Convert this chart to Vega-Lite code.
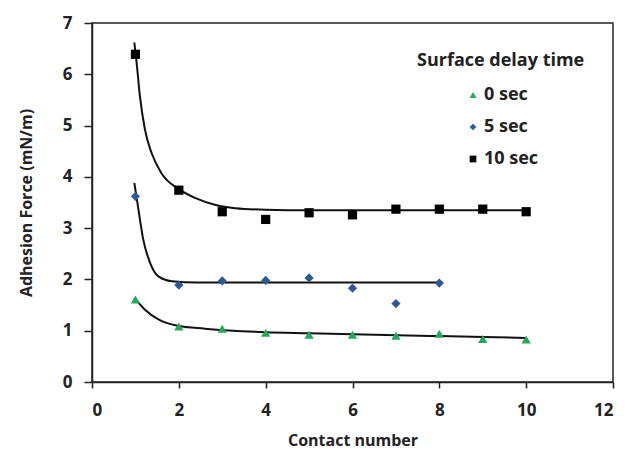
{
  "$schema": "https://vega.github.io/schema/vega-lite/v6.json",
  "width": 521,
  "height": 359,
  "autosize": "none",
  "padding": {"left": 92, "top": 23, "right": 14, "bottom": 67},
  "background": "white",
  "config": {
    "font": "Open Sans",
    "view": {"stroke": "#222", "strokeWidth": 1.5},
    "axis": {
      "grid": false,
      "domainColor": "#222",
      "domainWidth": 1.5,
      "tickColor": "#222",
      "tickWidth": 1.5,
      "labelFont": "Open Sans",
      "labelFontWeight": "bold",
      "labelFontSize": 17,
      "labelColor": "#222",
      "titleFont": "Open Sans",
      "titleFontWeight": "bold",
      "titleFontSize": 16,
      "titleColor": "#222"
    }
  },
  "datasets": {
    "pts": [
      {"series": "0 sec", "contact": 1, "force": 1.61},
      {"series": "0 sec", "contact": 2, "force": 1.08},
      {"series": "0 sec", "contact": 3, "force": 1.04},
      {"series": "0 sec", "contact": 4, "force": 0.96},
      {"series": "0 sec", "contact": 5, "force": 0.92},
      {"series": "0 sec", "contact": 6, "force": 0.92},
      {"series": "0 sec", "contact": 7, "force": 0.90},
      {"series": "0 sec", "contact": 8, "force": 0.94},
      {"series": "0 sec", "contact": 9, "force": 0.84},
      {"series": "0 sec", "contact": 10, "force": 0.83},
      {"series": "5 sec", "contact": 1, "force": 3.62},
      {"series": "5 sec", "contact": 2, "force": 1.89},
      {"series": "5 sec", "contact": 3, "force": 1.97},
      {"series": "5 sec", "contact": 4, "force": 1.98},
      {"series": "5 sec", "contact": 5, "force": 2.03},
      {"series": "5 sec", "contact": 6, "force": 1.83},
      {"series": "5 sec", "contact": 7, "force": 1.53},
      {"series": "5 sec", "contact": 8, "force": 1.93},
      {"series": "10 sec", "contact": 1, "force": 6.39},
      {"series": "10 sec", "contact": 2, "force": 3.74},
      {"series": "10 sec", "contact": 3, "force": 3.32},
      {"series": "10 sec", "contact": 4, "force": 3.17},
      {"series": "10 sec", "contact": 5, "force": 3.30},
      {"series": "10 sec", "contact": 6, "force": 3.26},
      {"series": "10 sec", "contact": 7, "force": 3.37},
      {"series": "10 sec", "contact": 8, "force": 3.37},
      {"series": "10 sec", "contact": 9, "force": 3.37},
      {"series": "10 sec", "contact": 10, "force": 3.32}
    ],
    "fit": [
      {"series": "10 sec", "contact": 0.975, "force": 6.62},
      {"series": "10 sec", "contact": 1.03, "force": 6.21},
      {"series": "10 sec", "contact": 1.1, "force": 5.6},
      {"series": "10 sec", "contact": 1.22, "force": 4.92},
      {"series": "10 sec", "contact": 1.375, "force": 4.46},
      {"series": "10 sec", "contact": 1.6, "force": 4.07},
      {"series": "10 sec", "contact": 2.0, "force": 3.76},
      {"series": "10 sec", "contact": 2.4, "force": 3.58},
      {"series": "10 sec", "contact": 2.85, "force": 3.45},
      {"series": "10 sec", "contact": 3.3, "force": 3.39},
      {"series": "10 sec", "contact": 4.0, "force": 3.36},
      {"series": "10 sec", "contact": 5.0, "force": 3.35},
      {"series": "10 sec", "contact": 7.0, "force": 3.35},
      {"series": "10 sec", "contact": 10.0, "force": 3.35},
      {"series": "5 sec", "contact": 0.975, "force": 3.88},
      {"series": "5 sec", "contact": 1.07, "force": 3.36},
      {"series": "5 sec", "contact": 1.18, "force": 2.78},
      {"series": "5 sec", "contact": 1.34, "force": 2.32},
      {"series": "5 sec", "contact": 1.53, "force": 2.06},
      {"series": "5 sec", "contact": 1.84, "force": 1.965},
      {"series": "5 sec", "contact": 2.4, "force": 1.94},
      {"series": "5 sec", "contact": 4.0, "force": 1.94},
      {"series": "5 sec", "contact": 6.0, "force": 1.94},
      {"series": "5 sec", "contact": 8.0, "force": 1.94},
      {"series": "0 sec", "contact": 0.975, "force": 1.64},
      {"series": "0 sec", "contact": 1.22, "force": 1.41},
      {"series": "0 sec", "contact": 1.53, "force": 1.22},
      {"series": "0 sec", "contact": 2.0, "force": 1.09},
      {"series": "0 sec", "contact": 2.6, "force": 1.04},
      {"series": "0 sec", "contact": 4.0, "force": 0.97},
      {"series": "0 sec", "contact": 5.0, "force": 0.95},
      {"series": "0 sec", "contact": 6.0, "force": 0.93},
      {"series": "0 sec", "contact": 8.0, "force": 0.895},
      {"series": "0 sec", "contact": 10.0, "force": 0.86}
    ]
  },
  "layer": [
    {
      "data": {"name": "fit"},
      "mark": {"type": "line", "color": "#111", "strokeWidth": 2, "interpolate": "monotone"},
      "encoding": {
        "x": {"field": "contact", "type": "quantitative"},
        "y": {"field": "force", "type": "quantitative"},
        "detail": {"field": "series"}
      }
    },
    {
      "data": {"name": "pts"},
      "mark": {"type": "point", "filled": true, "opacity": 1, "size": 85},
      "encoding": {
        "x": {
          "field": "contact", "type": "quantitative",
          "scale": {"domain": [0, 12], "nice": false},
          "axis": {"values": [0, 2, 4, 6, 8, 10, 12], "tickSize": 6, "labelPadding": 14, "title": "Contact number", "titlePadding": 14}
        },
        "y": {
          "field": "force", "type": "quantitative",
          "scale": {"domain": [0, 7], "nice": false},
          "axis": {"values": [0, 1, 2, 3, 4, 5, 6, 7], "tickSize": 8, "labelPadding": 12, "title": "Adhesion Force (mN/m)", "titlePadding": 28}
        },
        "shape": {
          "field": "series", "type": "nominal",
          "scale": {"domain": ["0 sec", "5 sec", "10 sec"], "range": ["triangle-up", "diamond", "square"]},
          "legend": {
            "title": "Surface delay time",
            "orient": "none",
            "legendX": 325,
            "legendY": 29,
            "titleFont": "Open Sans",
            "titleFontWeight": "bold",
            "titleFontSize": 18,
            "titleColor": "#222",
            "titlePadding": 16,
            "labelFont": "Open Sans",
            "labelFontWeight": "bold",
            "labelFontSize": 18,
            "labelColor": "#222",
            "labelOffset": 2,
            "symbolSize": 45,
            "symbolOffset": 47,
            "rowPadding": 14
          }
        },
        "color": {
          "field": "series", "type": "nominal",
          "scale": {"domain": ["0 sec", "5 sec", "10 sec"], "range": ["#22a95c", "#2d5a97", "#000000"]},
          "legend": {
            "title": "Surface delay time",
            "orient": "none",
            "legendX": 325,
            "legendY": 29,
            "titleFont": "Open Sans",
            "titleFontWeight": "bold",
            "titleFontSize": 18,
            "titleColor": "#222",
            "titlePadding": 16,
            "labelFont": "Open Sans",
            "labelFontWeight": "bold",
            "labelFontSize": 18,
            "labelColor": "#222",
            "labelOffset": 2,
            "symbolSize": 45,
            "symbolOffset": 47,
            "rowPadding": 14
          }
        }
      }
    }
  ]
}
